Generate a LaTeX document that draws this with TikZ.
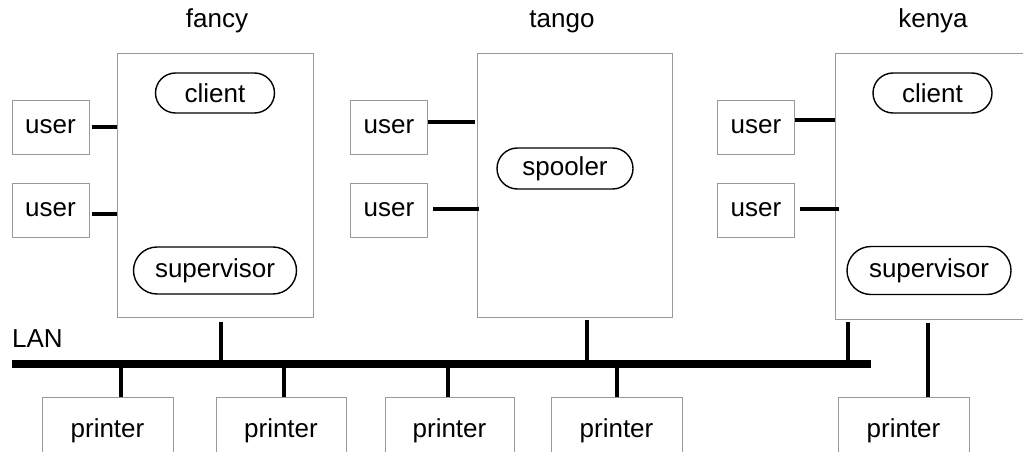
\documentclass[tikz,border=0pt]{standalone}
\usepackage{fontspec}
\setmainfont{Liberation Sans}
\usetikzlibrary{shapes.misc}
\begin{document}
\begin{tikzpicture}[x=1pt,y=-1pt,
  every node/.style={font=\fontsize{26}{30}\selectfont, inner sep=0pt},
  host/.style={draw=black!40, line width=1pt, rectangle, minimum width=#1, minimum height=263pt},
  userbox/.style={draw=black!40, line width=1pt, rectangle, minimum width=77pt, minimum height=54pt},
  printerbox/.style={draw=black!40, line width=1pt, rectangle, minimum width=131pt, minimum height=100pt},
  proc/.style={draw=black, line width=1.4pt, rounded rectangle, minimum height=#1},
  link/.style={line width=4pt},
  bus/.style={line width=8.5pt},
  title/.style={anchor=base}
]
\useasboundingbox (0,0) rectangle (1023,452);

% hosts
\node[host=196pt] (fancy) at (215,185.5) {};
\node[host=195pt] (tango) at (574.5,185.5) {};
\node[host=240pt, minimum height=265pt] (kenya) at (955,186.5) {};

\node[title] (tfancy) at (217,28) {fancy};
\node[title] (ttango) at (562,28) {tango};
\node[title] (tkenya) at (933,28) {kenya};

% processes
\node[proc=40pt, minimum width=119pt] (fclient) at (215,93) {client};
\node[proc=47pt, minimum width=163pt] (fsup) at (215,270.5) {supervisor};
\node[proc=41pt, minimum width=136pt] (spool) at (565,168.5) {spooler};
\node[proc=40pt, minimum width=119pt] (kclient) at (932.5,93) {client};
\node[proc=48pt, minimum width=164pt] (ksup) at (929,270.5) {supervisor};

% users
\node[userbox] (fu1) at (50.5,127) {user};
\node[userbox] (fu2) at (50.5,210) {user};
\node[userbox] (tu1) at (389,127) {user};
\node[userbox] (tu2) at (389,210) {user};
\node[userbox] (ku1) at (756,127) {user};
\node[userbox] (ku2) at (756,210) {user};

\draw[link] ([xshift=2pt]fu1.east) -- (fu1.east -| fancy.west);
\draw[link] ([xshift=2pt,yshift=-4pt]fu2.east) -- ([yshift=-4pt]fu2.east -| fancy.west);
\draw[link] ([yshift=5pt]tu1.east) -- ([xshift=-2pt,yshift=5pt]tu1.east -| tango.west);
\draw[link] ([xshift=5pt,yshift=1pt]tu2.east) -- ([xshift=2pt,yshift=1pt]tu2.east -| tango.west);
\draw[link] ([yshift=7pt]ku1.east) -- ([yshift=7pt]ku1.east -| kenya.west);
\draw[link] ([xshift=5pt,yshift=1pt]ku2.east) -- ([xshift=4pt,yshift=1pt]ku2.east -| kenya.west);

% LAN
\node[anchor=base west] (lan) at (12,347) {LAN};
\coordinate (busw) at (12,364);
\coordinate (buse) at (871,364);
\draw[bus] (busw) -- (buse);

% printers
\node[printerbox] (p1) at (107.5,447) {};
\node[printerbox, minimum width=130pt] (p2) at (281,447) {};
\node[printerbox, minimum width=129pt] (p3) at (449.5,447) {};
\node[printerbox] (p4) at (616.5,447) {};
\node[printerbox] (p5) at (903.5,447) {};
\foreach \p in {p1,p2,p3,p4,p5}
  \node[anchor=base] at (\p.center |- 0,437) {printer};

% stubs to the LAN
\coordinate (sf) at (221,322);
\coordinate (st) at (587,320);
\coordinate (sk) at (848,322);
\draw[link] (sf) -- (sf |- busw);
\draw[link] (st) -- (st |- busw);
\draw[link] (sk) -- (sk |- busw);
\coordinate (s1) at (121,364);
\coordinate (s2) at (284,364);
\coordinate (s3) at (448,364);
\coordinate (s4) at (617,364);
\draw[link] (s1) -- (s1 |- p1.north);
\draw[link] (s2) -- (s2 |- p2.north);
\draw[link] (s3) -- (s3 |- p3.north);
\draw[link] (s4) -- (s4 |- p4.north);
% kenya's own printer
\coordinate (sk2) at (928,323);
\draw[link] (sk2) -- (sk2 |- p5.north);
\end{tikzpicture}
\end{document}
